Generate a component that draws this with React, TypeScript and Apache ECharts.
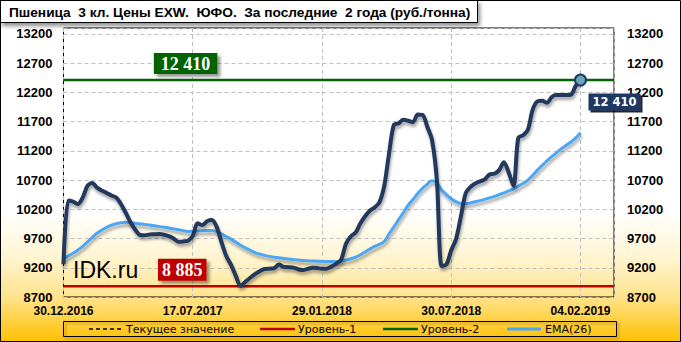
import React, { useEffect, useRef } from "react";
import * as echarts from "echarts";

const titleText = "Пшеница  3 кл. Цены EXW.  ЮФО.  За последние  2 года (руб./тонна)";
const dateTicks = ["30.12.2016", "17.07.2017", "29.01.2018", "30.07.2018", "04.02.2019"];
const weeksPerTick = 27;
const totalWeeks = 115;
const yMin = 8700;
const yMax = 13300;
const yStep = 500;

const price = [
  9260, 10350, 10330, 10290, 10400, 10600, 10650, 10570, 10520, 10480,
  10435, 10400, 10290, 10140, 9980, 9850, 9760, 9755, 9768, 9772,
  9776, 9765, 9740, 9700, 9645, 9650, 9662, 9745, 9960, 9930,
  9995, 10015, 9900, 9640, 9400, 9250, 9060, 8890, 8960, 9030,
  9090, 9140, 9178, 9185, 9192, 9255, 9215, 9210, 9203, 9175,
  9160, 9180, 9200, 9195, 9183, 9185, 9220, 9270, 9340, 9610,
  9735, 9800, 9955, 10080, 10175, 10230, 10320, 10600, 11150, 11640,
  11670, 11730, 11715, 11690, 11820, 11815, 11610, 11380, 10700, 9230,
  9260, 9500, 9690, 10070, 10470, 10580, 10640, 10678, 10710, 10795,
  10808, 10870, 11005, 10830, 10600, 11420, 11466, 11560, 11900, 12045,
  12055, 12021, 12120, 12153, 12153, 12153, 12160, 12310, 12410,
];

const ema26 = [
  9350, 9400, 9450, 9505, 9565, 9640, 9720, 9790, 9845, 9890,
  9930, 9955, 9970, 9977, 9970, 9960, 9950, 9942, 9930, 9918,
  9905, 9893, 9880, 9865, 9850, 9835, 9822, 9825, 9830, 9834,
  9836, 9836, 9820, 9780, 9735, 9690, 9640, 9585, 9540, 9500,
  9460, 9435, 9412, 9395, 9382, 9370, 9358, 9348, 9340, 9333,
  9325, 9318, 9315, 9312, 9308, 9306, 9305, 9307, 9312, 9330,
  9355, 9380, 9420, 9470, 9520, 9565, 9600, 9650, 9777, 9900,
  10023, 10144, 10270, 10367, 10470, 10560, 10630, 10690, 10650, 10530,
  10450, 10380, 10330, 10300, 10295, 10310, 10330, 10348, 10370, 10395,
  10420, 10450, 10480, 10515, 10550, 10595, 10645, 10700, 10780, 10870,
  10950, 11030, 11100, 11170, 11235, 11295, 11350, 11420, 11510,
];

const level1 = 8885;
const level2 = 12410;
const currentValue = 12410;

const legendNames = ["Текущее значение", "Уровень-1", "Уровень-2", "EMA(26)"];
const legendColors = ["#000000", "#C00000", "#006400", "#4BA6F5"];

const fmt = (v: number) => String(v).replace(/\B(?=(\d{3})+(?!\d))/g, " ");

export default function App() {
  const ref = useRef<HTMLDivElement>(null);
  useEffect(() => {
    document.body.style.margin = "0";
    const chart = echarts.init(ref.current!, undefined, { renderer: "svg" });
    const last = price.length - 1;
    const lineShadow = { shadowColor: "rgba(0,0,0,0.35)", shadowBlur: 3, shadowOffsetX: 1, shadowOffsetY: 3 };
    const axisLabelBase = { color: "#000", fontFamily: "Liberation Sans", fontWeight: "bold" as const };
    const legendY = 329;
    const legendLines = [
      [89, 122],
      [260, 295],
      [383, 418],
      [507, 541],
    ];
    const legendTextX = [126, 298, 421, 545];
    const graphics: any[] = [
      {
        type: "rect",
        silent: true,
        z: 100,
        shape: { x: 0.5, y: 0.5, width: 680, height: 341 },
        style: { fill: "none", stroke: "#000", lineWidth: 1 },
      },
      {
        type: "rect",
        z: 50,
        shape: { x: 0.5, y: 0.5, width: 477, height: 22 },
        style: {
          fill: "#fff",
          stroke: "#000",
          lineWidth: 1,
          shadowColor: "rgba(0,0,0,0.45)",
          shadowBlur: 4,
          shadowOffsetX: 2,
          shadowOffsetY: 3,
        },
      },
      {
        type: "text",
        z: 51,
        x: 9,
        y: 12,
        style: {
          text: titleText,
          fill: "#000",
          font: "bold 13.7px 'Liberation Sans'",
          verticalAlign: "middle",
        },
      },
      {
        type: "text",
        z: 20,
        x: 73,
        y: 270,
        style: {
          text: "IDK.ru",
          fill: "#000",
          font: "23px 'Liberation Sans'",
          verticalAlign: "middle",
        },
      },
      {
        type: "rect",
        z: 20,
        shape: { x: 63.5, y: 321.5, width: 553, height: 15 },
        style: {
          fill: "none",
          stroke: "#000",
          lineWidth: 1,
          shadowColor: "rgba(0,0,0,0.3)",
          shadowBlur: 2,
          shadowOffsetX: 2,
          shadowOffsetY: 2,
        },
      },
    ];
    legendNames.forEach((name, i) => {
      graphics.push({
        type: "line",
        z: 21,
        shape: { x1: legendLines[i][0], y1: legendY, x2: legendLines[i][1], y2: legendY },
        style: {
          stroke: legendColors[i],
          lineWidth: i === 0 ? 1.3 : i === 3 ? 3 : 2.5,
          lineDash: i === 0 ? [4, 3] : null,
        },
      });
      graphics.push({
        type: "text",
        z: 21,
        x: legendTextX[i],
        y: legendY,
        style: {
          text: name,
          fill: "#000",
          font: "11px 'DejaVu Sans'",
          verticalAlign: "middle",
        },
      });
    });

    const option: any = {
      animation: false,
      backgroundColor: {
        type: "linear",
        x: 0,
        y: 0,
        x2: 0,
        y2: 1,
        colorStops: [
          { offset: 0, color: "#FFFFFF" },
          { offset: 0.62, color: "#FFFFFF" },
          { offset: 0.75, color: "#FFF5D2" },
          { offset: 0.87, color: "#FFE38A" },
          { offset: 1, color: "#FFC000" },
        ],
      },
      grid: {
        left: 63.5,
        right: 67,
        top: 28,
        bottom: 45,
        show: true,
        borderColor: "#000",
        borderWidth: 1,
        backgroundColor: "transparent",
      },
      xAxis: {
        type: "value",
        min: 0,
        max: totalWeeks,
        interval: weeksPerTick,
        axisLine: { show: false },
        axisTick: { show: false },
        splitLine: { show: true, lineStyle: { color: "#BFBFBF", type: [4, 3], width: 1 } },
        axisLabel: {
          ...axisLabelBase,
          fontSize: 12,
          margin: 8,
          showMaxLabel: false,
          formatter: (v: number) => (v % weeksPerTick === 0 ? dateTicks[v / weeksPerTick] ?? "" : ""),
        },
      },
      yAxis: [
        {
          type: "value",
          position: "left",
          min: yMin,
          max: yMax,
          interval: yStep,
          axisLine: { show: false },
          axisTick: { show: false },
          splitLine: { show: true, lineStyle: { color: "#BFBFBF", type: [4, 3], width: 1 } },
          axisLabel: { ...axisLabelBase, fontSize: 13, margin: 11, showMaxLabel: false, formatter: (v: number) => String(v) },
        },
        {
          type: "value",
          position: "right",
          min: yMin,
          max: yMax,
          interval: yStep,
          axisLine: { show: false },
          axisTick: { show: false },
          splitLine: { show: false },
          axisLabel: { ...axisLabelBase, fontSize: 13, margin: 13, showMaxLabel: false, formatter: (v: number) => String(v) },
        },
      ],
      series: [
        {
          name: "Текущее значение",
          type: "line",
          z: 1,
          symbol: "none",
          data: [
            [0, currentValue],
            [totalWeeks, currentValue],
          ],
          lineStyle: { color: "#000", width: 1.3, type: [4, 3] },
        },
        {
          name: "Уровень-1",
          type: "line",
          z: 2,
          symbol: "none",
          data: [
            [0, level1],
            [totalWeeks, level1],
          ],
          lineStyle: { color: "#C00000", width: 2.5 },
          markPoint: {
            symbol: "circle",
            symbolSize: 1,
            itemStyle: { color: "rgba(0,0,0,0)" },
            data: [{ coord: [24.8, level1], value: level1 }],
            label: {
              show: true,
              position: "inside",
              offset: [0, -16.5],
              formatter: () => fmt(level1),
              backgroundColor: "#C00000",
              color: "#fff",
              fontFamily: "Liberation Serif",
              fontWeight: "bold",
              fontSize: 18,
              padding: [3, 4, 1, 4],
              shadowColor: "rgba(0,0,0,0.4)",
              shadowBlur: 3,
              shadowOffsetX: 3,
              shadowOffsetY: 3,
            },
          },
        },
        {
          name: "Уровень-2",
          type: "line",
          z: 2,
          symbol: "none",
          data: [
            [0, level2],
            [totalWeeks, level2],
          ],
          lineStyle: { color: "#006400", width: 2.5 },
          markPoint: {
            symbol: "circle",
            symbolSize: 1,
            itemStyle: { color: "rgba(0,0,0,0)" },
            data: [{ coord: [25.5, level2], value: level2 }],
            label: {
              show: true,
              position: "inside",
              offset: [0, -16.5],
              formatter: () => fmt(level2),
              backgroundColor: "#006400",
              color: "#fff",
              fontFamily: "Liberation Serif",
              fontWeight: "bold",
              fontSize: 18,
              padding: [2, 7, 1, 7],
              shadowColor: "rgba(0,0,0,0.4)",
              shadowBlur: 3,
              shadowOffsetX: 3,
              shadowOffsetY: 3,
            },
          },
        },
        {
          name: "EMA(26)",
          type: "line",
          z: 3,
          symbol: "none",
          smooth: 0.4,
          data: ema26.map((v, i) => [i, v]),
          lineStyle: { color: "#4BA6F5", width: 3, ...lineShadow },
        },
        {
          name: "Цена",
          type: "line",
          z: 4,
          symbol: "none",
          smooth: 0.3,
          data: price.map((v, i) => [i, v]),
          lineStyle: { color: "#22395C", width: 4, ...lineShadow },
          markPoint: {
            symbol: "circle",
            symbolSize: 11,
            itemStyle: { color: "#69A9B7", borderColor: "#1F3864", borderWidth: 2 },
            data: [{ coord: [last, price[last]], value: price[last] }],
            label: {
              show: true,
              position: "inside",
              offset: [34, 22],
              formatter: () => fmt(price[last]),
              backgroundColor: "#1F3864",
              color: "#fff",
              fontFamily: "DejaVu Sans",
              fontWeight: "bold",
              fontSize: 11.5,
              padding: [3, 4, 2, 4],
              shadowColor: "rgba(0,0,0,0.85)",
              shadowBlur: 1,
              shadowOffsetX: 2,
              shadowOffsetY: 2,
            },
          },
        },
      ],
      graphic: graphics,
    };
    chart.setOption(option);
    return () => chart.dispose();
  }, []);
  return <div ref={ref} style={{ width: 681, height: 342 }} />;
}
